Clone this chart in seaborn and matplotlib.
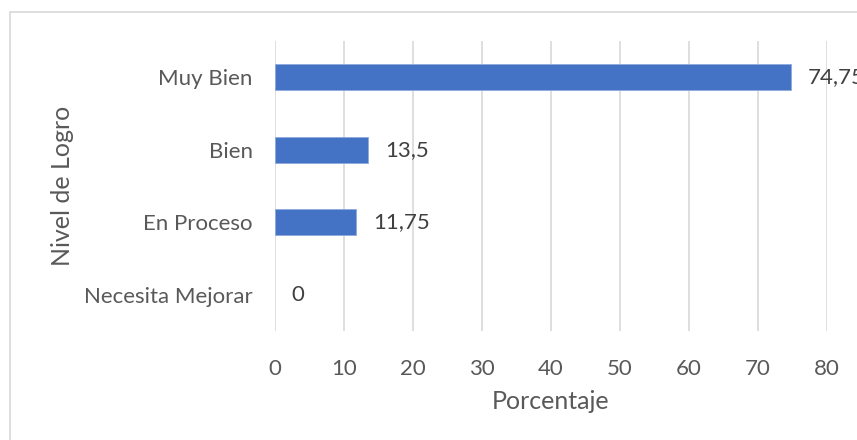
import matplotlib
matplotlib.use("Agg")
import matplotlib.pyplot as plt
import seaborn as sns
import pandas as pd
from matplotlib.patches import Rectangle

# Data
categorias = ["Muy Bien", "Bien", "En Proceso", "Necesita Mejorar"]
porcentajes = [74.75, 13.5, 11.75, 0]
etiquetas = ["74,75", "13,5", "11,75", "0"]
ticks_x = [0, 10, 20, 30, 40, 50, 60, 70, 80]

df = pd.DataFrame({"Nivel": categorias, "Porcentaje": porcentajes})

sns.set_theme(style="white")
plt.rcParams["font.family"] = ["Lato", "DejaVu Sans"]

W, H = 857, 440
fig = plt.figure(figsize=(W / 100, H / 100), dpi=100)
x0, x1, y0, y1 = 275, 827, 41, 331
ax = fig.add_axes([x0 / W, 1 - y1 / H, (x1 - x0) / W, (y1 - y0) / H])

sns.barplot(data=df, x="Porcentaje", y="Nivel", order=categorias, orient="h",
            color="#4472C4", saturation=1, width=0.355, ax=ax,
            edgecolor="#8FAADC", linewidth=0.6, zorder=3)
for p, v in zip(ax.patches, porcentajes):
    if v == 0:
        p.set_edgecolor("none")

ax.set_xlim(0, 80)
ax.set_xticks(ticks_x)
ax.set_xticklabels([str(t) for t in ticks_x])
ax.grid(axis="x", color="#D9D9D9", linewidth=1.2, zorder=0)
ax.grid(axis="y", visible=False)
for s in ax.spines.values():
    s.set_visible(False)
ax.tick_params(axis="both", length=0, labelsize=16, colors="#595959")
ax.tick_params(axis="x", pad=20)
ax.tick_params(axis="y", pad=16)

ax.set_xlabel("Porcentaje", fontsize=18, color="#595959")
ax.xaxis.set_label_coords(0.5, (y1 - 390) / (y1 - y0))
ax.set_ylabel("Nivel de Logro", fontsize=18, color="#595959")
ax.yaxis.label.set_verticalalignment("center")
ax.yaxis.set_label_coords((63 - x0) / (x1 - x0), 0.5)

ax.bar_label(ax.containers[0], labels=etiquetas, padding=12, fontsize=16,
             color="#404040", clip_on=False)

# chart area frame
fig.patches.append(Rectangle((9.5 / W, -0.1), 1.1, 1 - 12.5 / H + 0.1,
                             transform=fig.transFigure, fill=False,
                             edgecolor="#D9D9D9", linewidth=1.2))

fig.savefig("out.png", dpi=100, facecolor="white")
